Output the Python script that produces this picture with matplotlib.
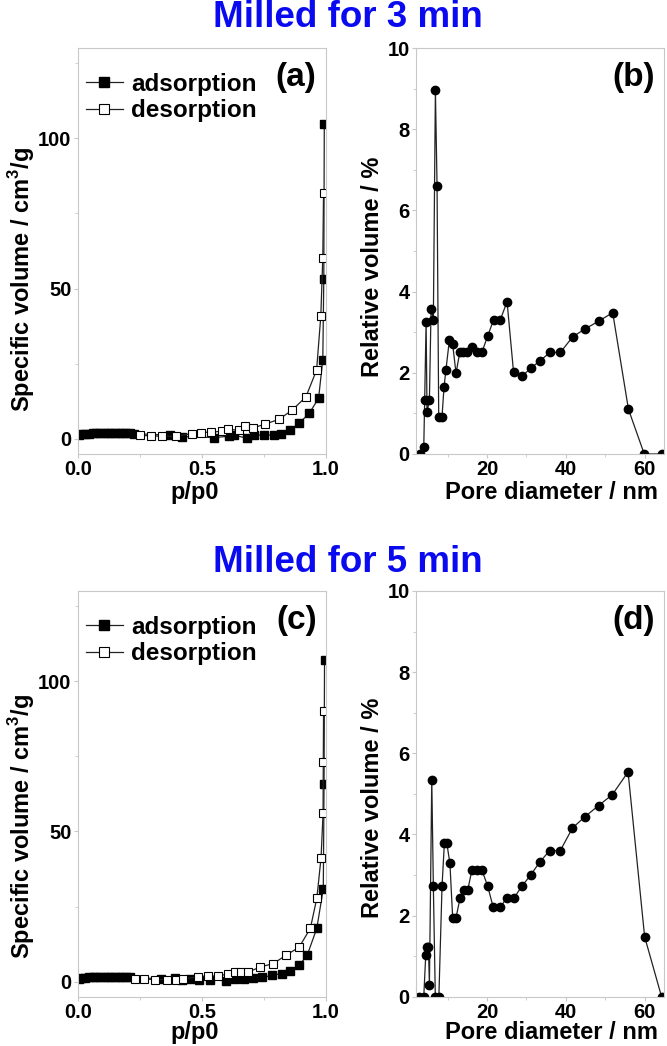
import matplotlib
matplotlib.use("Agg")
import matplotlib.pyplot as plt
from matplotlib.ticker import MultipleLocator

# isotherm, milled 3 min
ads3_p = [0.005, 0.015, 0.03, 0.045, 0.06, 0.075, 0.09, 0.105, 0.12, 0.135, 0.15, 0.165,
          0.18, 0.195, 0.21, 0.225, 0.37, 0.42, 0.55, 0.61, 0.63, 0.68, 0.71, 0.75, 0.79,
          0.82, 0.855, 0.893, 0.933, 0.97, 0.987, 0.991, 0.993]
ads3_v = [1.2, 1.5, 1.7, 1.8, 1.9, 1.9, 2.0, 2.0, 1.9, 2.0, 2.0, 1.9, 1.9, 1.9, 1.9, 1.8,
          1.2, 0.8, 0.45, 0.9, 1.2, 0.3, 1.3, 1.3, 1.3, 1.8, 2.9, 5.3, 8.6, 13.5, 26.4,
          53.3, 104.8]
des3_p = [0.25, 0.295, 0.34, 0.395, 0.46, 0.495, 0.535, 0.58, 0.604, 0.65, 0.674, 0.705,
          0.754, 0.81, 0.864, 0.919, 0.962, 0.979, 0.987, 0.99]
des3_v = [1.2, 1.0, 0.9, 0.9, 1.8, 2.1, 2.3, 2.5, 3.2, 2.9, 4.2, 3.65, 4.9, 6.5, 9.6, 14.0,
          22.9, 40.9, 60.3, 81.8]

# pore size distribution, milled 3 min
d3 = [2.95, 3.97, 4.2, 4.56, 4.8, 5.4, 5.82, 6.4, 6.92, 7.34, 7.76, 8.6, 9.1, 9.6, 10.46,
      11.3, 12.15, 13.1, 13.9, 14.9, 16.2, 17.5, 18.7, 20.2, 21.7, 23.4, 25.1, 26.75, 28.9,
      31.1, 33.5, 36.0, 38.6, 41.8, 44.9, 48.3, 51.9, 55.9, 59.9, 64.5]
rv3 = [0, 0.18, 1.33, 3.26, 1.03, 1.33, 3.57, 3.31, 8.96, 6.6, 0.92, 0.92, 1.64, 2.08, 2.8,
       2.7, 1.99, 2.5, 2.5, 2.5, 2.64, 2.5, 2.5, 2.91, 3.31, 3.31, 3.75, 2.01, 1.92, 2.11,
       2.3, 2.5, 2.5, 2.89, 3.08, 3.27, 3.48, 1.1, 0, 0]

# isotherm, milled 5 min
ads5_p = [0.005, 0.015, 0.03, 0.045, 0.06, 0.075, 0.09, 0.105, 0.12, 0.135, 0.15, 0.165,
          0.18, 0.195, 0.21, 0.335, 0.39, 0.42, 0.452, 0.49, 0.533, 0.597, 0.634, 0.671,
          0.707, 0.743, 0.781, 0.822, 0.855, 0.892, 0.925, 0.963, 0.989, 0.992, 0.994]
ads5_v = [0.9, 1.1, 1.3, 1.4, 1.5, 1.5, 1.6, 1.6, 1.6, 1.6, 1.7, 1.6, 1.6, 1.6, 1.6, 0.9,
          1.2, 0.7, 0.9, 0.6, 0.7, 0.3, 0.9, 0.9, 1.2, 1.4, 2.1, 2.7, 3.6, 5.4, 9.0, 17.8,
          31.0, 65.8, 107.0]
des5_p = [0.231, 0.268, 0.311, 0.358, 0.395, 0.423, 0.486, 0.526, 0.566, 0.607, 0.634,
          0.658, 0.685, 0.734, 0.787, 0.839, 0.892, 0.937, 0.963, 0.98, 0.988, 0.989, 0.99]
des5_v = [0.9, 0.9, 0.7, 0.7, 0.7, 0.9, 1.6, 2.0, 1.8, 2.7, 3.1, 3.1, 3.1, 4.9, 6.0, 8.8,
          11.5, 17.8, 27.8, 41.3, 56.0, 73.0, 90.2]

# pore size distribution, milled 5 min
d5 = [2.87, 3.97, 4.47, 4.8, 5.15, 5.4, 6.0, 6.4, 6.9, 7.8, 8.6, 9.2, 9.8, 10.6, 11.3,
      12.15, 13.2, 14.1, 15.1, 16.2, 17.5, 18.7, 20.2, 21.6, 23.3, 25.1, 26.9, 28.9, 31.1,
      33.4, 35.9, 38.6, 41.7, 44.9, 48.3, 51.8, 55.8, 60.0, 64.3]
rv5 = [0, 0, 1.03, 1.23, 1.23, 0.29, 5.35, 2.72, 0, 0, 2.72, 3.79, 3.79, 3.29, 1.95, 1.95,
       2.44, 2.62, 2.62, 3.13, 3.13, 3.13, 2.72, 2.2, 2.2, 2.44, 2.44, 2.73, 3.0, 3.32, 3.6,
       3.6, 4.16, 4.44, 4.71, 4.98, 5.54, 1.48, 0]

plt.rcParams["font.family"] = ["Liberation Sans", "DejaVu Sans"]
plt.rcParams["font.weight"] = "bold"
plt.rcParams["axes.labelweight"] = "bold"
plt.rcParams["mathtext.fontset"] = "custom"
plt.rcParams["mathtext.rm"] = "Liberation Sans:bold"
plt.rcParams["mathtext.bf"] = "Liberation Sans:bold"

FRAME = "#c8c8c8"
LINE = "#222222"
BLUE = "#0a0af0"

fig = plt.figure(figsize=(6.67, 10.46), dpi=100)


def style(ax):
    for s in ax.spines.values():
        s.set_color(FRAME)
        s.set_linewidth(0.8)
    ax.tick_params(which="both", direction="out", color=FRAME, labelsize=14.5, pad=1.5)
    ax.tick_params(which="major", length=3)
    ax.tick_params(which="minor", length=2)


def isotherm(rect, ap, av, dp, dv, tag, xl_y, yl_y):
    ax = fig.add_axes(rect)
    ax.plot(ap, av, color=LINE, lw=0.9, marker="s", ms=5.4, mfc="black", mec="black",
            label="adsorption")
    ax.plot(dp, dv, color=LINE, lw=0.9, marker="s", ms=5.4, mfc="white", mec="black",
            mew=0.8, label="desorption")
    ax.set_xlim(0, 1.0)
    ax.set_ylim(-5, 130)
    ax.xaxis.set_major_locator(MultipleLocator(0.5))
    ax.xaxis.set_minor_locator(MultipleLocator(0.25))
    ax.yaxis.set_major_locator(MultipleLocator(50))
    ax.yaxis.set_minor_locator(MultipleLocator(25))
    ax.set_xlabel("p/p0", fontsize=17)
    ax.set_ylabel(r"Specific volume / cm$^{3}$/g", fontsize=17)
    ax.xaxis.set_label_coords(0.47, xl_y)
    ax.yaxis.set_label_coords(-0.165, yl_y)
    style(ax)
    ax.legend(loc="upper left", bbox_to_anchor=(-0.025, 0.975), frameon=False, fontsize=17.5,
              handlelength=1.5, handletextpad=0.35, labelspacing=0.15, borderaxespad=0.2,
              markerscale=1.3)
    ax.text(0.88, 0.928, tag, transform=ax.transAxes, fontsize=24, ha="center",
            va="center")
    return ax


def psd(rect, d, rv, tag, xl_y, yl_y):
    ax = fig.add_axes(rect)
    ax.plot(d, rv, color=LINE, lw=0.9, marker="o", ms=6, mfc="black", mec="black")
    ax.set_xlim(2, 65)
    ax.set_ylim(0, 10)
    ax.xaxis.set_major_locator(MultipleLocator(20))
    ax.xaxis.set_minor_locator(MultipleLocator(10))
    ax.yaxis.set_major_locator(MultipleLocator(2))
    ax.yaxis.set_minor_locator(MultipleLocator(1))
    ax.set_xlabel("Pore diameter / nm", fontsize=17)
    ax.set_ylabel("Relative volume / %", fontsize=17)
    ax.xaxis.set_label_coords(0.545, xl_y)
    ax.yaxis.set_label_coords(-0.128, yl_y)
    style(ax)
    ax.text(0.875, 0.928, tag, transform=ax.transAxes, fontsize=24, ha="center",
            va="center")
    return ax


isotherm([0.1165, 0.566, 0.3723, 0.3881], ads3_p, ads3_v, des3_p, des3_v, "(a)",
         -0.066, 0.43)
psd([0.6237, 0.566, 0.3723, 0.3881], d3, rv3, "(b)", -0.066, 0.46)
isotherm([0.1165, 0.0471, 0.3723, 0.3879], ads5_p, ads5_v, des5_p, des5_v, "(c)",
         -0.061, 0.42)
psd([0.6237, 0.0471, 0.3723, 0.3879], d5, rv5, "(d)", -0.061, 0.465)

fig.text(0.522, 0.974, "Milled for 3 min", color=BLUE, fontsize=26.5, ha="center",
         va="baseline")
fig.text(0.522, 0.4535, "Milled for 5 min", color=BLUE, fontsize=26.5, ha="center",
         va="baseline")

fig.savefig("out.png", dpi=100)
